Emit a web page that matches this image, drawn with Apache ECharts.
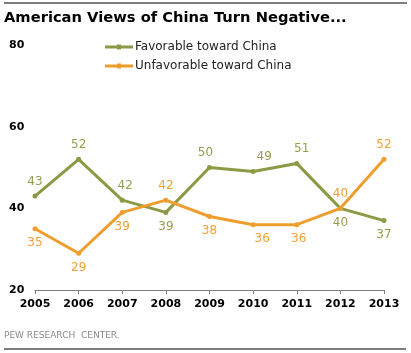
<!DOCTYPE html>
<html><head><meta charset="utf-8">
<script src="https://cdn.jsdelivr.net/npm/echarts@6/dist/echarts.min.js"></script>
<style>html,body{margin:0;padding:0;background:#fff}#c{width:411px;height:353px}</style>
</head><body><div id="c"></div>
<script>
const years = ['2005','2006','2007','2008','2009','2010','2011','2012','2013'];
const favorable = [43,52,42,39,50,49,51,40,37];
const unfavorable = [35,29,39,42,38,36,36,40,52];
const favPos = ['top','top','top','bottom','top','top','top','bottom','bottom'];
const unfPos = ['bottom','bottom','bottom','top','bottom','bottom','bottom','top','top'];
const yTicks = [20,40,60,80];

const GREEN = '#8C9A45', ORANGE = '#EE9E2E';
const GREEN_L = '#979E4E', ORANGE_L = '#F0A035';
const FONT = 'DejaVu Sans';

function mk(vals, pos, offsets) {
  return vals.map((v, i) => ({
    value: v,
    label: { position: pos[i], offset: offsets[i] || [0, 0] }
  }));
}
const favOff = {2:[3,0],4:[-4,0],5:[11,0],6:[5,0]};
const unfOff = {5:[9,0],6:[2,0]};
const ICON = 'path://M0,3 L28,3 L28,6 L0,6 Z M12,2 L16,2 L16,7 L12,7 Z';

const chart = echarts.init(document.getElementById('c'), null, {renderer:'canvas'});
chart.setOption({
  animation: false,
  textStyle: {fontFamily: FONT},
  graphic: [
    {type:'line', shape:{x1:4,y1:3,x2:407,y2:3}, style:{stroke:'#000',lineWidth:1}},
    {type:'line', shape:{x1:4,y1:349,x2:406,y2:349}, style:{stroke:'#000',lineWidth:1}},
    {type:'text', left:4, top:11, style:{text:'American Views of China Turn Negative...', font:'bold 14.7px "DejaVu Sans"', fill:'#000'}},
    {type:'text', left:4, top:331, style:{text:'PEW RESEARCH  CENTER.', font:'9px "DejaVu Sans"', fill:'#8a8a8a'}}
  ],
  legend: {
    orient:'vertical', left:105, top:41, padding:0, itemWidth:28, itemHeight:9, itemGap:7,
    textStyle:{fontFamily:FONT, fontSize:12, color:'#222', padding:[0,0,0,-3]},
    data:[
      {name:'Favorable toward China', icon:ICON, itemStyle:{color:GREEN}},
      {name:'Unfavorable toward China', icon:ICON, itemStyle:{color:ORANGE}}
    ]
  },
  grid: {left:35, right:27, top:45, bottom:63},
  xAxis: {
    type:'category', data:years, boundaryGap:false,
    axisLine:{lineStyle:{color:'#808080', width:1}},
    axisTick:{length:4, lineStyle:{color:'#808080'}},
    axisLabel:{color:'#000', fontWeight:'bold', fontSize:11, fontFamily:FONT, margin:9}
  },
  yAxis: {
    type:'value', min:20, max:80, interval:20,
    axisLine:{show:false}, axisTick:{show:false}, splitLine:{show:false},
    axisLabel:{color:'#000', fontWeight:'bold', fontSize:11, fontFamily:FONT, align:'left', margin:26,
      formatter: v => yTicks.includes(v) ? String(v) : ''}
  },
  series: [
    {name:'Favorable toward China', type:'line', data: mk(favorable, favPos, favOff),
      symbol:'circle', symbolSize:5, lineStyle:{color:GREEN, width:3}, itemStyle:{color:GREEN},
      label:{show:true, color:GREEN_L, fontSize:12, fontFamily:FONT, distance:6}},
    {name:'Unfavorable toward China', type:'line', data: mk(unfavorable, unfPos, unfOff),
      symbol:'circle', symbolSize:5, lineStyle:{color:ORANGE, width:3}, itemStyle:{color:ORANGE},
      label:{show:true, color:ORANGE_L, fontSize:12, fontFamily:FONT, distance:6}}
  ]
});
</script></body></html>
